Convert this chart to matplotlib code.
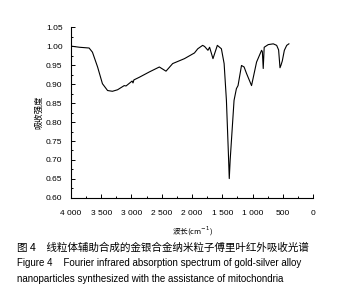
import numpy as np
import matplotlib.pyplot as plt
from matplotlib.ticker import MultipleLocator, FuncFormatter

plt.rcParams['font.family'] = ['Liberation Sans', 'Noto Sans CJK SC', 'DejaVu Sans']

# FTIR spectrum (wavenumber cm-1, intensity)
wavenumber = [4000, 3860, 3700, 3645, 3560, 3480, 3395, 3315, 3230, 3120, 3090,
              2990, 2975, 2960, 2870, 2705, 2540, 2430, 2320, 2125, 1960, 1905,
              1825, 1792, 1737, 1710, 1654, 1582, 1515, 1470, 1432, 1400, 1385,
              1370, 1306, 1267, 1240, 1183, 1140, 1100, 1017, 934, 851, 838,
              824, 808, 741, 658, 602, 570, 547, 530, 509, 475, 436, 400]
intensity = [1.000, 0.997, 0.995, 0.984, 0.945, 0.901, 0.883, 0.881, 0.885, 0.896, 0.895,
             0.908, 0.903, 0.911, 0.918, 0.932, 0.945, 0.934, 0.954, 0.967, 0.982, 0.993,
             1.002, 0.999, 0.989, 0.997, 0.967, 1.002, 0.993, 0.954, 0.857, 0.72, 0.651,
             0.70, 0.857, 0.888, 0.896, 0.949, 0.945, 0.928, 0.896, 0.958, 0.989, 0.985,
             0.941, 0.997, 1.004, 1.006, 1.002, 0.99, 0.943, 0.950, 0.961, 0.989, 1.002, 1.006]

xticks = [4000, 3500, 3000, 2500, 2000, 1500, 1000, 500, 0]
xticklabels = ['4 000', '3 500', '3 000', '2 500', '2 000', '1 500', '1 000', '500', '0']
yticks = [0.60, 0.65, 0.70, 0.75, 0.80, 0.85, 0.90, 0.95, 1.00, 1.05]

fig = plt.figure(figsize=(3.53, 2.95), dpi=100)
ax = fig.add_axes([0.201, 0.329, 0.686, 0.579])

ax.plot(wavenumber, intensity, color='black', lw=0.8)

ax.set_xlim(4000, 0)
ax.set_ylim(0.60, 1.05)
ax.set_xticks(xticks)
ax.set_xticklabels(xticklabels)
ax.set_yticks(yticks)
ax.yaxis.set_major_formatter(FuncFormatter(lambda v, p: '%.2f' % v))
ax.xaxis.set_minor_locator(MultipleLocator(250))
ax.yaxis.set_minor_locator(MultipleLocator(0.025))

ax.spines['top'].set_visible(False)
ax.spines['right'].set_visible(False)
for s in ['left', 'bottom']:
    ax.spines[s].set_linewidth(0.8)
ax.tick_params(which='both', direction='in', labelsize=6, width=0.7)
ax.tick_params(which='major', length=3)
ax.tick_params(axis='y', which='major', pad=6)
ax.tick_params(axis='x', which='major', pad=9)
ax.tick_params(which='minor', length=1.5)

ax.set_ylabel('吸收强度', fontsize=6, family=['Noto Sans CJK SC'], labelpad=2)
ax.set_xlabel('波长(cm$^{-1}$)', fontsize=5.5, family=['Noto Sans CJK SC', 'DejaVu Sans'], labelpad=5)

fig.text(0.048, 1 - 248 / 295, '图 4　线粒体辅助合成的金银合金纳米粒子傅里叶红外吸收光谱',
         fontsize=7.6, family=['Noto Sans CJK SC'], va='center')
fig.text(0.048, 1 - 263.5 / 295, 'Figure 4    Fourier infrared absorption spectrum of gold-silver alloy',
         fontsize=7, va='center')
fig.text(0.048, 1 - 279 / 295, 'nanoparticles synthesized with the assistance of mitochondria',
         fontsize=7, va='center')

fig.savefig('out.png', dpi=100)
